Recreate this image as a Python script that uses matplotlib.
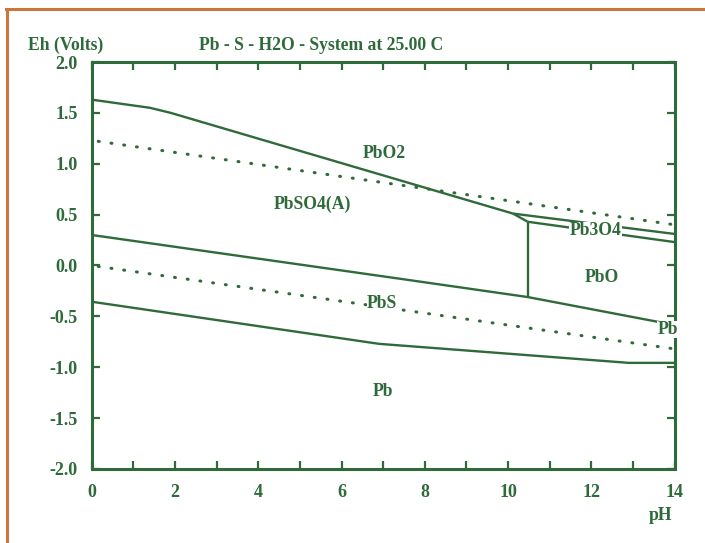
import matplotlib
matplotlib.use("Agg")
import matplotlib.pyplot as plt
from matplotlib.lines import Line2D
from matplotlib.ticker import MultipleLocator

GREEN = "#2f6a3a"
ORANGE = "#c8783f"
FONT = "Liberation Serif"
FS = 12.7

# Boundaries (pH, Eh)
ph_pbo2_pbso4 = [0, 1.4, 1.9, 10.12]
eh_pbo2_pbso4 = [1.63, 1.55, 1.50, 0.51]
ph_pbo2_pb3o4 = [10.12, 14]
eh_pbo2_pb3o4 = [0.51, 0.31]
ph_pbso4_pb3o4 = [10.12, 10.47]
eh_pbso4_pb3o4 = [0.51, 0.43]
ph_pb3o4_pbo = [10.47, 14]
eh_pb3o4_pbo = [0.43, 0.23]
ph_pbso4_pbo = [10.47, 10.47]
eh_pbso4_pbo = [0.43, -0.31]
ph_pbs_upper = [0, 7.4, 10.47, 14]
eh_pbs_upper = [0.30, -0.13, -0.31, -0.585]
ph_pb_pbs = [0, 6.9, 12.9, 14]
eh_pb_pbs = [-0.356, -0.77, -0.957, -0.957]
ph_water = [0, 14]
eh_water_upper = [1.23, 0.40]
eh_water_lower = [0.0, -0.82]

region_names = ["PbO2", "PbSO4(A)", "Pb3O4", "PbO", "PbS", "Pb", "Pb"]
region_ph = [7.03, 5.29, 12.1, 12.26, 6.98, 7.0, 13.84]
region_eh = [1.10, 0.60, 0.34, -0.12, -0.37, -1.24, -0.63]

x_ticks = [0, 2, 4, 6, 8, 10, 12, 14]
y_ticks = [-2.0, -1.5, -1.0, -0.5, 0.0, 0.5, 1.0, 1.5, 2.0]

fig = plt.figure(figsize=(7.05, 5.43), dpi=100)
ax = fig.add_axes([0.130, 0.1363, 0.827, 0.7495])
ax.set_xlim(0, 14)
ax.set_ylim(-2, 2)

lw = 1.7
for xs, ys in [(ph_pbo2_pbso4, eh_pbo2_pbso4), (ph_pbo2_pb3o4, eh_pbo2_pb3o4),
               (ph_pbso4_pb3o4, eh_pbso4_pb3o4), (ph_pb3o4_pbo, eh_pb3o4_pbo),
               (ph_pbso4_pbo, eh_pbso4_pbo), (ph_pbs_upper, eh_pbs_upper),
               (ph_pb_pbs, eh_pb_pbs)]:
    ax.plot(xs, ys, color=GREEN, lw=lw, solid_capstyle="butt", zorder=3)

for ys in [eh_water_upper, eh_water_lower]:
    ax.plot(ph_water, ys, color=GREEN, lw=2.2, linestyle=(2, (0.3, 3.9)),
            dash_capstyle="round", zorder=3)

for name, x, y in zip(region_names, region_ph, region_eh):
    ax.text(x, y, name, color=GREEN, fontsize=FS, fontweight="bold", family=FONT,
            ha="center", va="center", zorder=6, clip_on=False,
            bbox=dict(facecolor="white", edgecolor="none", pad=0.3))

for s in ax.spines.values():
    s.set_color(GREEN)
    s.set_linewidth(2.2)

ax.xaxis.set_major_locator(MultipleLocator(2))
ax.xaxis.set_minor_locator(MultipleLocator(1))
ax.set_xticks(x_ticks)
ax.set_xticklabels([str(v) for v in x_ticks])
ax.set_yticks(y_ticks)
ax.set_yticklabels([f"{v:.1f}" for v in y_ticks])
ax.tick_params(axis="both", which="both", direction="in", length=6, width=1.6,
               color=GREEN, top=True, right=True, labelcolor=GREEN, labelsize=13)
ax.tick_params(axis="x", pad=11)
ax.tick_params(axis="y", pad=10)
for lab in ax.get_xticklabels() + ax.get_yticklabels():
    lab.set_family(FONT)
    lab.set_fontweight("bold")

fig.text(28 / 705, 1 - 45 / 543, "Eh (Volts)", color=GREEN, fontsize=FS,
         fontweight="bold", family=FONT, ha="left", va="center")
fig.text(199 / 705, 1 - 45 / 543, "Pb - S - H2O - System at 25.00 C", color=GREEN,
         fontsize=FS, fontweight="bold", family=FONT, ha="left", va="center")
fig.text(661 / 705, 1 - 516 / 543, "pH", color=GREEN, fontsize=FS,
         fontweight="bold", family=FONT, ha="center", va="center")

# orange frame (left and top)
fig.add_artist(Line2D([7 / 705, 7 / 705], [0, 1 - 9 / 543], color=ORANGE, lw=2.2,
                      transform=fig.transFigure))
fig.add_artist(Line2D([6 / 705, 1], [1 - 9 / 543, 1 - 9 / 543], color=ORANGE, lw=2.2,
                      transform=fig.transFigure))

fig.savefig("out.png", dpi=100)
